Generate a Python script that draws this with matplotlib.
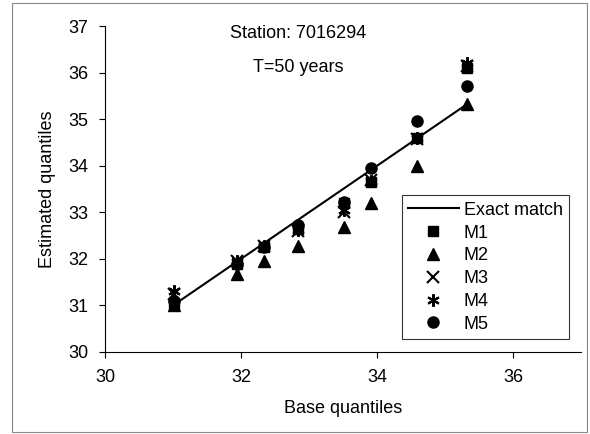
import matplotlib
matplotlib.use("Agg")
import matplotlib.pyplot as plt
from matplotlib.patches import Rectangle

plt.rcParams['font.family'] = ['Liberation Sans', 'DejaVu Sans']

base = [31.01, 31.94, 32.34, 32.84, 33.51, 33.91, 34.59, 35.32]
m1 = [31.05, 31.90, 32.25, 32.65, 33.20, 33.65, 34.60, 36.10]
m2 = [31.00, 31.68, 31.95, 32.27, 32.68, 33.21, 34.00, 35.33]
m3 = [31.25, 31.95, 32.27, 32.60, 33.00, 33.70, 34.58, 36.15]
m4 = [31.30, 31.95, 32.28, 32.62, 33.05, 33.68, 34.60, 36.20]
m5 = [31.10, 31.90, 32.25, 32.72, 33.22, 33.96, 34.95, 35.72]

fig = plt.figure(figsize=(5.9, 4.34), dpi=100)
ax = fig.add_axes([0.178, 0.189, 0.807, 0.751])

ax.plot(base, base, color='black', lw=1.5, label='Exact match')
ax.plot(base, m1, ls='none', marker='s', color='black', ms=7.5, label='M1')
ax.plot(base, m2, ls='none', marker='^', color='black', ms=8.5, label='M2')
ax.plot(base, m3, ls='none', marker='x', color='black', ms=8, mew=1.5, label='M3')
ax.plot(base, m4, ls='none', marker=(6, 2, 0), color='black', ms=9, mew=1.5, label='M4')
ax.plot(base, m5, ls='none', marker='o', color='black', ms=8, label='M5')

ax.set_xlim(30, 37)
ax.set_ylim(30, 37)
ax.set_xticks([30, 32, 34, 36])
ax.set_yticks(range(30, 38))
ax.spines['top'].set_visible(False)
ax.spines['right'].set_visible(False)
ax.tick_params(direction='out', length=4, labelsize=13, pad=8)
ax.set_xlabel('Base quantiles', fontsize=13, labelpad=10)
ax.set_ylabel('Estimated quantiles', fontsize=13, labelpad=9)

ax.text(0.405, 0.978, 'Station: 7016294', transform=ax.transAxes,
        ha='center', va='center', fontsize=13)
ax.text(0.405, 0.874, 'T=50 years', transform=ax.transAxes,
        ha='center', va='center', fontsize=13)

leg = ax.legend(loc='lower right', bbox_to_anchor=(0.975, 0.04), fontsize=13,
                frameon=True, fancybox=False, edgecolor='black',
                handlelength=2.8, handletextpad=0.3, labelspacing=0.32,
                borderpad=0.35, borderaxespad=0)
leg.get_frame().set_linewidth(0.8)

fig.patches.append(Rectangle((0.02, 0.005), 0.975, 0.988, transform=fig.transFigure,
                             fill=False, edgecolor='#888888', lw=0.8))

fig.savefig('out.png', dpi=100)
